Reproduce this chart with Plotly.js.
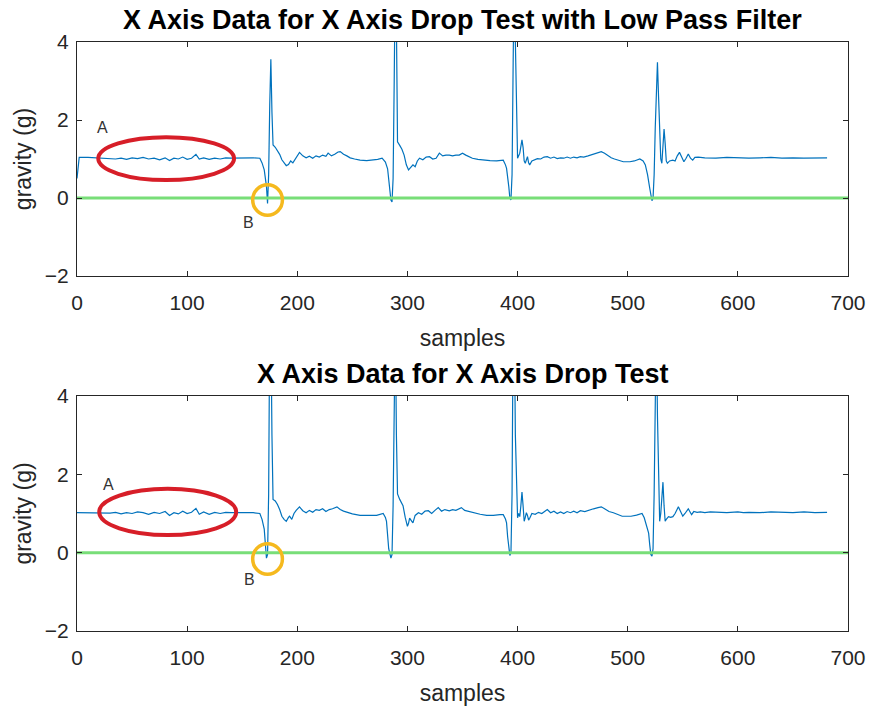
<!DOCTYPE html>
<html>
<head>
<meta charset="utf-8">
<script src="https://cdn.plot.ly/plotly-3.0.1.min.js"></script>
<style>html,body{margin:0;padding:0;background:#fff;}#chart{width:873px;height:711px;}</style>
</head>
<body>
<div id="chart"></div>
<script>
// ---- data: top panel (low pass filtered) ----
var filtSamples = [0,2,10,20,30,35,40,45,50,55,60,65,70,75,80,84,88,92,96,100,104,108,111,115,120,125,130,135,140,150,160,166,168,170,172,173,174,175,176,177,178,180,182,184,186,188,190,192,194,196,198,200,202,205,208,211,214,217,220,223,226,228,231,234,237,239,242,245,248,252,257,263,269,273,277,280,282,284,285,286,287,288,289,290,291,293,295,297,299,301,303,305,307,309,311,314,317,320,323,326,329,332,335,338,341,344,347,350,353,356,359,364,369,375,381,387,389,390,392,393,394,395,396,397,398,399,400,402,404,405,406,407,408,409,410,411,413,415,418,421,424,427,430,433,436,439,442,445,448,451,454,457,460,464,468,472,476,479,482,485,488,492,496,502,506,511,514,516,518,520,522,523,524,525,526,527,528,529,530,531,532,533,534,535,536,538,541,543,545,547,549,551,553,555,557,559,561,564,570,580,590,600,610,620,630,640,650,660,670,681];
var filtGravity = [0.50,1.04,1.04,1.03,1.02,1.00,1.02,0.99,1.03,1.01,1.04,1.00,1.02,0.98,1.03,0.96,1.02,1.00,1.05,0.99,1.02,1.12,1.00,1.03,0.99,1.02,1.00,1.03,1.02,1.03,1.03,1.02,0.90,0.72,0.30,-0.14,0.60,2.40,3.56,2.20,1.36,1.30,1.20,1.12,0.98,0.90,0.83,0.86,0.95,0.90,1.00,1.08,1.17,1.08,1.03,1.07,1.02,1.08,1.05,1.10,1.07,1.15,1.08,1.12,1.18,1.19,1.12,1.08,1.03,1.00,0.97,0.96,0.97,0.99,1.02,0.92,0.75,0.30,-0.05,-0.10,0.50,3.00,6.00,4.50,1.44,1.35,1.25,1.10,0.85,0.72,0.80,0.85,0.80,0.95,1.02,0.98,1.05,1.06,1.00,1.02,1.15,1.08,1.10,1.10,1.08,1.10,1.10,1.15,1.10,1.06,1.02,0.99,0.97,0.96,0.95,0.97,0.85,0.76,0.30,0.00,-0.05,0.60,3.50,6.00,4.00,2.00,1.02,1.15,1.49,1.30,0.95,0.89,1.00,1.06,0.90,0.85,0.95,0.97,1.01,1.00,1.05,1.06,1.02,1.05,1.01,1.03,1.02,1.05,1.02,1.05,1.03,1.06,1.05,1.08,1.12,1.16,1.19,1.15,1.08,1.03,1.00,0.96,0.93,0.93,0.95,1.00,0.95,0.85,0.60,0.25,-0.07,0.00,0.60,1.80,2.90,3.48,2.60,1.60,1.00,0.89,1.30,1.77,1.40,0.95,0.89,0.95,0.97,0.95,1.08,1.17,1.05,0.93,1.02,1.13,1.02,0.97,1.04,1.05,1.03,1.02,1.04,1.03,1.02,1.03,1.04,1.02,1.03,1.02,1.03,1.03];

// ---- data: bottom panel (raw) ----
var rawSamples = [0,10,20,30,35,40,45,50,55,60,65,70,75,80,84,88,92,96,100,104,108,111,115,120,125,130,135,140,150,160,166,168,170,171,172,173,174,175,176,177,178,180,182,184,186,188,190,192,193,195,197,199,202,205,208,211,214,217,220,223,226,229,232,236,239,242,245,250,257,264,272,278,280,281,282,283,285,286,287,288,289,290,291,293,295,296,298,300,301,302,304,305,307,310,313,316,319,322,325,328,331,334,338,341,344,347,349,352,356,360,366,372,378,384,387,389,390,391,392,393,394,395,396,397,398,399,400,401,402,403,404,405,406,407,408,409,410,411,413,416,419,422,425,427,430,433,436,439,442,445,448,451,454,457,461,465,469,473,476,479,483,487,491,495,499,503,508,513,515,517,519,520,521,522,523,524,525,526,527,528,529,530,531,532,533,534,535,537,539,541,543,546,548,550,552,555,557,558,560,563,566,570,575,580,590,600,605,610,620,630,640,650,660,670,681];
var rawGravity = [1.02,1.02,1.02,1.01,1.03,0.99,1.02,1.00,1.04,1.02,0.98,1.03,1.00,1.05,0.95,1.02,0.99,1.06,1.00,1.03,1.13,0.98,1.04,0.98,1.03,1.00,1.03,1.02,1.02,1.02,1.00,0.85,0.60,0.20,-0.14,-0.05,1.50,6.00,6.00,3.00,1.36,1.32,1.23,1.10,0.93,0.85,0.80,0.90,0.93,0.85,1.00,1.08,1.17,1.07,1.02,1.08,1.03,1.10,1.08,1.12,1.05,1.10,1.12,1.17,1.10,1.06,1.03,0.99,0.95,0.95,0.95,1.00,0.90,0.80,0.50,0.10,-0.14,-0.05,1.20,6.00,6.00,3.00,1.50,1.36,1.25,1.20,0.90,0.67,0.75,0.88,0.80,0.76,0.95,1.02,0.98,1.06,1.07,1.00,1.08,1.15,1.06,1.10,1.07,1.10,1.08,1.12,1.15,1.08,1.05,1.02,0.98,0.95,0.95,0.97,0.97,0.86,0.76,0.40,0.05,-0.07,0.00,1.50,6.00,6.00,3.00,1.50,0.89,1.00,0.92,1.20,1.55,1.20,0.80,0.90,1.02,0.95,0.83,0.88,1.00,0.98,1.03,1.00,1.06,1.10,1.02,1.06,1.00,1.04,1.00,1.05,1.02,1.06,1.02,1.07,1.05,1.09,1.12,1.15,1.17,1.12,1.05,1.02,0.97,0.93,0.93,0.93,0.96,1.00,0.89,0.70,0.50,0.20,-0.05,-0.09,0.10,1.50,6.00,6.00,3.50,1.50,0.80,1.00,1.60,1.80,1.20,0.80,0.85,0.92,0.90,0.92,1.00,1.17,1.05,0.93,1.00,1.12,1.02,0.97,1.05,1.03,1.04,1.02,1.04,1.03,1.02,1.04,1.02,1.03,1.02,1.04,1.03,1.02,1.04,1.02,1.03];

// ---- reference (zero) line ----
var zeroSamples = [0, 700];
var zeroGravity = [0, 0];

// ---- text ----
var titleTop = 'X Axis Data for X Axis Drop Test with Low Pass Filter';
var titleBottom = 'X Axis Data for X Axis Drop Test';
var xLabel = 'samples';
var yLabel = 'gravity (g)';
var xTicks = [0,100,200,300,400,500,600,700];
var yTicks = [-2,0,2,4];

var blue = '#0072BD';
var green = 'rgb(120,222,120)';
var axisCol = '#262626';
var font = 'Liberation Sans, Arial, Helvetica, sans-serif';

var traces = [
  {x: filtSamples, y: filtGravity, type: 'scatter', mode: 'lines', line: {color: blue, width: 1.2}, xaxis: 'x', yaxis: 'y'},
  {x: zeroSamples, y: zeroGravity, type: 'scatter', mode: 'lines', line: {color: green, width: 3}, xaxis: 'x', yaxis: 'y'},
  {x: rawSamples, y: rawGravity, type: 'scatter', mode: 'lines', line: {color: blue, width: 1.2}, xaxis: 'x2', yaxis: 'y2'},
  {x: zeroSamples, y: zeroGravity, type: 'scatter', mode: 'lines', line: {color: green, width: 3}, xaxis: 'x2', yaxis: 'y2'}
];

function xa(anchor) {
  return {
    anchor: anchor, domain: [0, 1], range: [0, 700], tickvals: xTicks,
    ticks: 'inside', ticklen: 5, tickcolor: axisCol, showline: true, mirror: 'ticks',
    linecolor: axisCol, linewidth: 1, showgrid: false, zeroline: false,
    ticklabelstandoff: 8,
    tickfont: {family: font, size: 21, color: axisCol},
    title: {text: xLabel, font: {family: font, size: 23, color: axisCol}, standoff: 16}
  };
}
function ya(anchor, dom) {
  return {
    anchor: anchor, domain: dom, range: [-2, 4], tickvals: yTicks,
    ticks: 'inside', ticklen: 5, tickcolor: axisCol, showline: true, mirror: 'ticks',
    linecolor: axisCol, linewidth: 1, showgrid: false, zeroline: false,
    ticklabelstandoff: 3,
    tickfont: {family: font, size: 21, color: axisCol},
    title: {text: yLabel, font: {family: font, size: 23, color: axisCol}, standoff: 6}
  };
}

var red = 'rgb(215,30,40)';
var gold = 'rgb(245,185,30)';

var layout = {
  width: 873, height: 711,
  margin: {l: 77, r: 25, t: 42, b: 80},
  paper_bgcolor: '#fff', plot_bgcolor: '#fff',
  showlegend: false,
  xaxis: xa('y'), yaxis: ya('x', [0.6027, 1]),
  xaxis2: xa('y2'), yaxis2: ya('x2', [0, 0.399]),
  shapes: [
    {type: 'circle', xref: 'x', yref: 'y', x0: 19.3, x1: 142.6, y0: 0.46, y1: 1.56, line: {color: red, width: 4}},
    {type: 'circle', xref: 'x', yref: 'y', x0: 159.5, x1: 186.5, y0: -0.44, y1: 0.34, line: {color: gold, width: 3.5}},
    {type: 'circle', xref: 'x2', yref: 'y2', x0: 20.2, x1: 144.5, y0: 0.45, y1: 1.63, line: {color: red, width: 4}},
    {type: 'circle', xref: 'x2', yref: 'y2', x0: 159.5, x1: 186.5, y0: -0.55, y1: 0.23, line: {color: gold, width: 3.5}}
  ],
  annotations: [
    {text: '<b>' + titleTop + '</b>', xref: 'paper', yref: 'paper', x: 0.5, y: 1, yanchor: 'middle', yshift: 22, showarrow: false, font: {family: font, size: 27, color: '#000'}},
    {text: '<b>' + titleBottom + '</b>', xref: 'paper', yref: 'paper', x: 0.5, y: 0.399, yanchor: 'middle', yshift: 22, showarrow: false, font: {family: font, size: 27, color: '#000'}},
    {text: 'A', xref: 'x', yref: 'y', x: 23.3, y: 1.81, showarrow: false, font: {family: font, size: 16, color: '#333'}},
    {text: 'B', xref: 'x', yref: 'y', x: 155.5, y: -0.63, showarrow: false, font: {family: font, size: 16, color: '#333'}},
    {text: 'A', xref: 'x2', yref: 'y2', x: 28.4, y: 1.74, showarrow: false, font: {family: font, size: 16, color: '#333'}},
    {text: 'B', xref: 'x2', yref: 'y2', x: 157, y: -0.69, showarrow: false, font: {family: font, size: 16, color: '#333'}}
  ]
};

Plotly.newPlot('chart', traces, layout, {displayModeBar: false, staticPlot: true});
</script>
</body>
</html>
